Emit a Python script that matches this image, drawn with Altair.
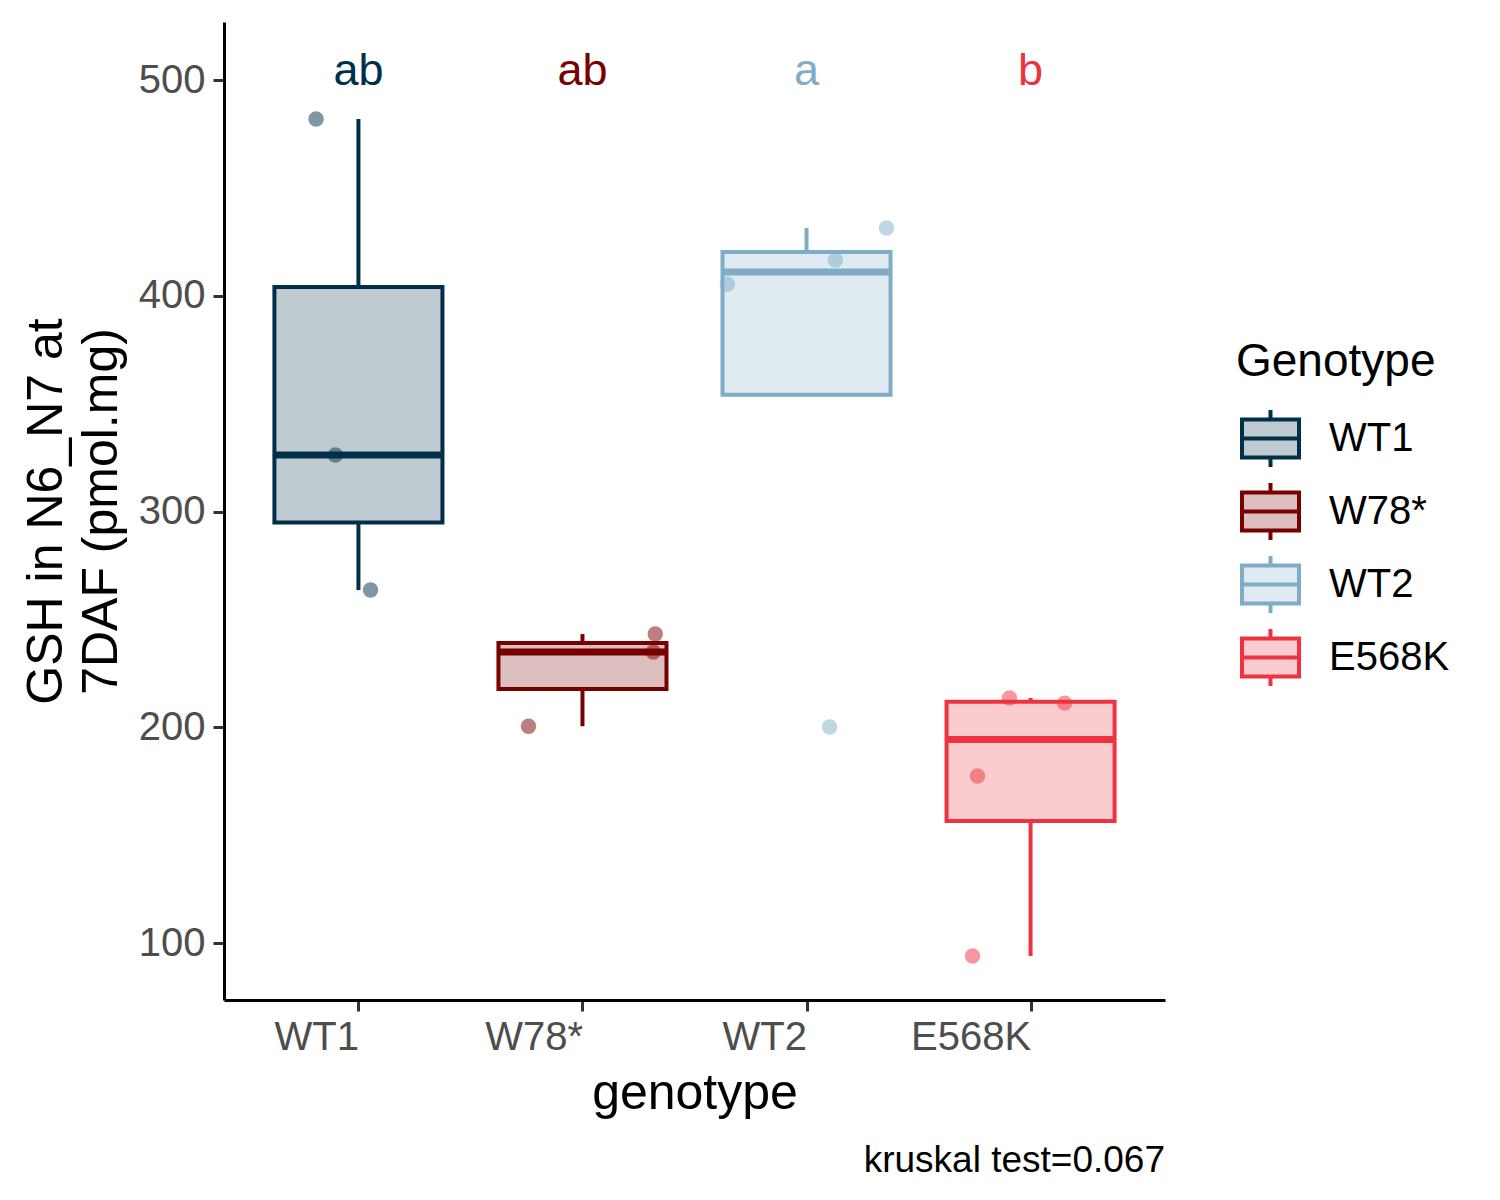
import json
import altair as alt
import numpy as np
import pandas as pd

genotypes = ["WT1", "W78*", "WT2", "E568K"]
colors = ["#003049", "#780000", "#7FADC8", "#EE3340"]
fill_tints = ["#BFCBD1", "#DDBFBF", "#DFEAF1", "#FBCCCF"]
letters = ["ab", "ab", "a", "b"]

values = {
    "WT1": [481.9, 326.2, 263.6],
    "W78*": [200.5, 234.9, 243.2],
    "WT2": [405.4, 416.6, 431.4, 200.1],
    "E568K": [213.6, 211.2, 177.4, 94.0],
}
jitter = {
    "WT1": [-0.189, -0.103, 0.054],
    "W78*": [-0.241, 0.316, 0.325],
    "WT2": [-0.353, 0.129, 0.357, 0.103],
    "E568K": [-0.094, 0.152, -0.237, -0.259],
}
letter_y = 497.5
caption = "kruskal test=0.067"

rows = []
for i, g in enumerate(genotypes):
    for v, j in zip(values[g], jitter[g]):
        rows.append({"genotype": g, "value": v, "xj": i + 1 + j})
pts = pd.DataFrame(rows)

stats = []
for i, g in enumerate(genotypes):
    arr = np.array(values[g])
    q1, med, q3 = np.percentile(arr, [25, 50, 75])
    iqr = q3 - q1
    inside = arr[(arr >= q1 - 1.5 * iqr) & (arr <= q3 + 1.5 * iqr)]
    stats.append({
        "genotype": g, "idx": i + 1, "lo": i + 1 - 0.375, "hi": i + 1 + 0.375,
        "q1": q1, "median": med, "q3": q3,
        "wlo": min(inside.min(), q1), "whi": max(inside.max(), q3),
        "letter": letters[i], "ly": letter_y,
    })
st = pd.DataFrame(stats)

label_expr = json.dumps(genotypes) + "[datum.value - 1]"

xscale = alt.Scale(domain=[0.4, 4.6], nice=False, zero=False)
yscale = alt.Scale(domain=[73.6, 526.9], nice=False, zero=False)
xaxis = alt.Axis(values=[1, 2, 3, 4], labelExpr=label_expr, title="genotype",
                 labelAlign="right", labelAngle=0, labelPadding=6, titlePadding=11)
yaxis = alt.Axis(values=[100, 200, 300, 400, 500], labelPadding=8,
                 title=["GSH in N6_N7 at", "7DAF (pmol.mg)"], titlePadding=12)

fill_scale = alt.Scale(domain=genotypes, range=fill_tints)
stroke_scale = alt.Scale(domain=genotypes, range=colors)
# same mapping, domain listed in another order so that its (hidden) legend
# is not merged with the Genotype legend
color_scale = alt.Scale(domain=genotypes[::-1], range=colors[::-1])

sym = "M-1,-0.667L1,-0.667L1,0.667L-1,0.667Z M-1,0L1,0 M0,-0.667L0,-1 M0,0.667L0,1"

legend = alt.Legend(
    title="Genotype", orient="none", legendX=1012, legendY=318,
    symbolType=sym, symbolSize=3249, symbolStrokeWidth=4, symbolOffset=4,
    labelFontSize=40, labelFont="Liberation Sans", labelColor="black",
    labelOffset=28, titleFontSize=46, titleFont="Liberation Sans", titleLimit=500,
    titleFontWeight="normal", titleColor="black", titlePadding=22, rowPadding=0,
)

base = alt.Chart(st)

whisk_up = base.mark_rule(strokeWidth=4).encode(
    x=alt.X("idx:Q", scale=xscale, axis=xaxis),
    y=alt.Y("q3:Q", scale=yscale, axis=yaxis),
    y2="whi:Q",
    color=alt.Color("genotype:N", scale=color_scale, legend=None),
)
whisk_dn = base.mark_rule(strokeWidth=4).encode(
    x="idx:Q", y="wlo:Q", y2="q1:Q",
    color=alt.Color("genotype:N", scale=color_scale, legend=None),
)
box = base.mark_rect(strokeWidth=4).encode(
    x="lo:Q", x2="hi:Q", y="q1:Q", y2="q3:Q",
    fill=alt.Fill("genotype:N", scale=fill_scale, legend=legend),
    stroke=alt.Stroke("genotype:N", scale=stroke_scale, legend=legend),
)
med = base.mark_rule(strokeWidth=7).encode(
    x="lo:Q", x2="hi:Q", y="median:Q",
    color=alt.Color("genotype:N", scale=color_scale, legend=None),
)
points = alt.Chart(pts).mark_circle(size=240, opacity=0.5).encode(
    x="xj:Q", y="value:Q",
    color=alt.Color("genotype:N", scale=color_scale, legend=None),
)
text = base.mark_text(fontSize=45, baseline="alphabetic", font="Liberation Sans").encode(
    x="idx:Q", y="ly:Q", text="letter:N",
    color=alt.Color("genotype:N", scale=color_scale, legend=None),
)

chart = alt.layer(whisk_up, whisk_dn, box, med, points, text).properties(
    width=941, height=978,
    autosize=alt.AutoSizeParams(type="none"),
    padding={"left": 216, "top": 14, "right": 327, "bottom": 192},
    title=alt.TitleParams(caption, orient="bottom", anchor="end", frame="group",
                          fontSize=37, fontWeight="normal", color="black",
                          offset=25, font="Liberation Sans"),
).configure_view(stroke=None).configure_axis(
    grid=False, domainColor="black", domainWidth=3, tickColor="#333333",
    tickWidth=3, tickSize=11, labelColor="#4D4D4D", labelFontSize=40,
    labelFont="Liberation Sans", titleFont="Liberation Sans", titleFontSize=50,
    titleFontWeight="normal", titleColor="black", titleLineHeight=55,
)

chart.save("out.html", embed_options={"renderer": "svg", "actions": False})
